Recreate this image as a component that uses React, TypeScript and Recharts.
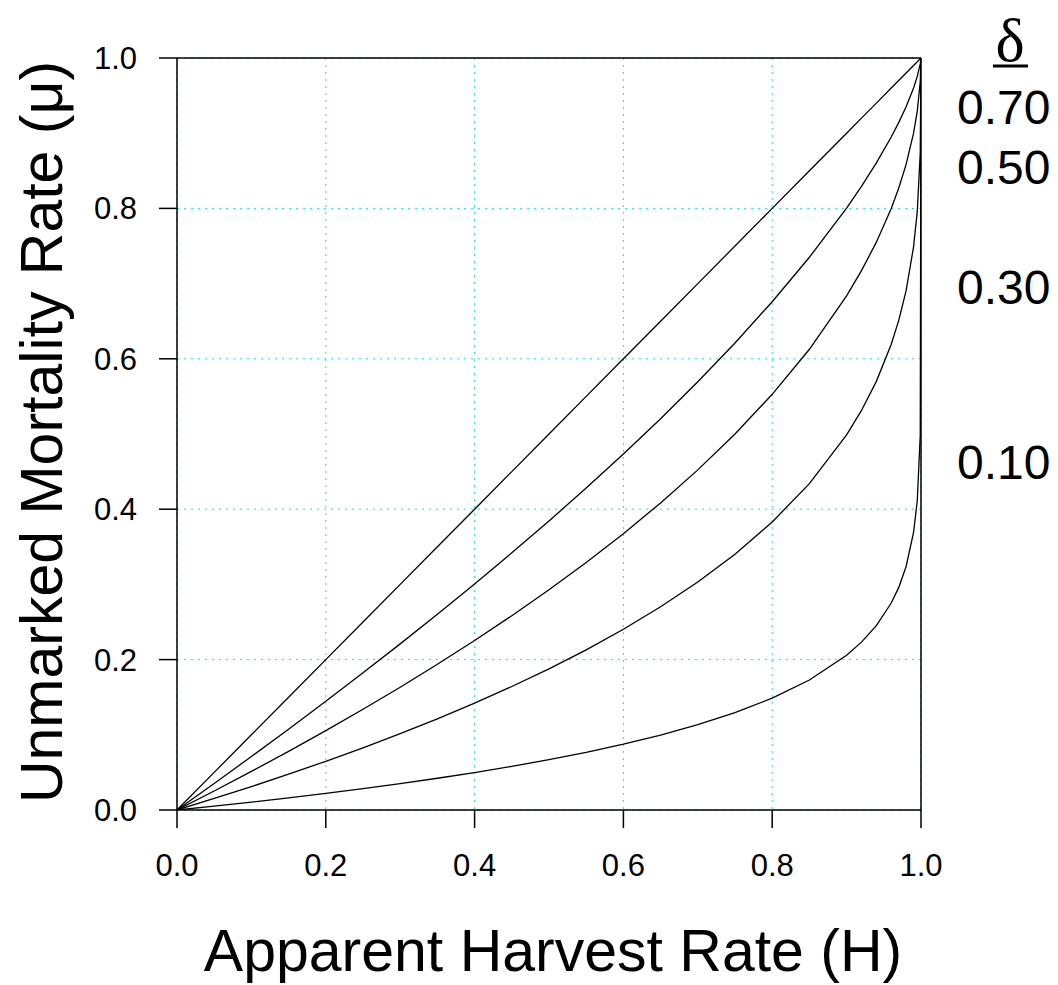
import React from "react";
import {
  LineChart,
  Line,
  XAxis,
  YAxis,
  CartesianGrid,
  ReferenceLine,
} from "recharts";

// apparent harvest rate (x) sample points
const H = [
  0, 0.05, 0.1, 0.15, 0.2, 0.25, 0.3, 0.35, 0.4, 0.45, 0.5, 0.55, 0.6, 0.65,
  0.7, 0.75, 0.8, 0.85, 0.9, 0.92, 0.94, 0.96, 0.97, 0.98, 0.99, 0.995, 0.999,
  1,
];

// unmarked mortality rate, one curve per delta (top to bottom)
const MU_D100 = [
  0, 0.05, 0.1, 0.15, 0.2, 0.25, 0.3, 0.35, 0.4, 0.45, 0.5, 0.55, 0.6, 0.65,
  0.7, 0.75, 0.8, 0.85, 0.9, 0.92, 0.94, 0.96, 0.97, 0.98, 0.99, 0.995, 0.999,
  1,
];
const MU_D70 = [
  0, 0.0353, 0.0711, 0.1075, 0.1446, 0.1824, 0.2209, 0.2603, 0.3006, 0.342,
  0.3844, 0.4282, 0.4735, 0.5204, 0.5695, 0.6211, 0.6759, 0.735, 0.8005,
  0.8293, 0.8605, 0.895, 0.9141, 0.9353, 0.9602, 0.9755, 0.9921, 1,
];
const MU_D50 = [
  0, 0.0253, 0.0513, 0.078, 0.1056, 0.134, 0.1633, 0.1938, 0.2254, 0.2584,
  0.2929, 0.3292, 0.3675, 0.4084, 0.4523, 0.5, 0.5528, 0.6127, 0.6838, 0.7172,
  0.7551, 0.8, 0.8268, 0.8586, 0.9, 0.9293, 0.9684, 1,
];
const MU_D30 = [
  0, 0.0153, 0.0311, 0.0476, 0.0648, 0.0827, 0.1015, 0.1212, 0.1421, 0.1642,
  0.1877, 0.213, 0.2403, 0.2702, 0.3032, 0.3402, 0.383, 0.434, 0.4988, 0.5313,
  0.57, 0.6193, 0.6508, 0.6907, 0.7488, 0.796, 0.8741, 1,
];
const MU_D10 = [
  0, 0.0051, 0.0105, 0.0161, 0.0221, 0.0284, 0.035, 0.0422, 0.0498, 0.058,
  0.067, 0.0767, 0.0876, 0.0997, 0.1134, 0.1294, 0.1487, 0.1728, 0.2057,
  0.2232, 0.2452, 0.2752, 0.2957, 0.3238, 0.369, 0.4113, 0.4988, 1,
];

const SERIES = ["d100", "d70", "d50", "d30", "d10"];
const X_TICKS = [0, 0.2, 0.4, 0.6, 0.8, 1];
const Y_TICKS = [0, 0.2, 0.4, 0.6, 0.8, 1];
const DELTA_LABELS = ["0.70", "0.50", "0.30", "0.10"];

const data = H.map((h, i) => ({
  h,
  d100: MU_D100[i],
  d70: MU_D70[i],
  d50: MU_D50[i],
  d30: MU_D30[i],
  d10: MU_D10[i],
}));

const FONT = "Arial, 'Liberation Sans', sans-serif";
const labelY = [124, 184, 304, 479];

export default function App() {
  const tick = { fill: "#000", fontSize: 31, fontFamily: FONT };
  return (
    <div style={{ position: "absolute", left: 0, top: 0, width: 1058, height: 985, background: "#fff" }}>
      <LineChart
        width={1058}
        height={985}
        data={data}
        margin={{ top: 58, right: 137, bottom: 0, left: 0 }}
      >
        <CartesianGrid stroke="#00eeee" strokeDasharray="2 5" strokeWidth={1} />
        <XAxis
          dataKey="h"
          type="number"
          domain={[0, 1]}
          ticks={X_TICKS}
          tickFormatter={(v: number) => v.toFixed(1)}
          tick={tick}
          tickSize={18}
          tickMargin={26}
          height={175}
          stroke="#000"
          strokeWidth={1.5}
          allowDataOverflow
        />
        <YAxis
          type="number"
          domain={[0, 1]}
          ticks={Y_TICKS}
          tickFormatter={(v: number) => v.toFixed(1)}
          tick={tick}
          tickSize={18}
          tickMargin={22}
          width={177}
          stroke="#000"
          strokeWidth={1.5}
          allowDataOverflow
        />
        <ReferenceLine y={1} stroke="#000" strokeWidth={1.5} />
        <ReferenceLine x={1} stroke="#000" strokeWidth={1.5} />
        {SERIES.map((s) => (
          <Line
            key={s}
            type="linear"
            dataKey={s}
            stroke="#000"
            strokeWidth={1.3}
            dot={false}
            isAnimationActive={false}
          />
        ))}
      </LineChart>
      <svg
        width={1058}
        height={985}
        style={{ position: "absolute", left: 0, top: 0, pointerEvents: "none" }}
      >
        <text x={553} y={971} textAnchor="middle" fontSize={59} fontFamily={FONT} fill="#000">
          Apparent Harvest Rate (H)
        </text>
        <text
          x={0}
          y={0}
          transform="translate(62 432) rotate(-90)"
          textAnchor="middle"
          fontSize={59}
          fontFamily={FONT}
          fill="#000"
        >
          Unmarked Mortality Rate (μ)
        </text>
        <text x={1010} y={61} textAnchor="middle" fontSize={62} fontFamily="'Liberation Serif', 'Times New Roman', serif" fill="#000">
          δ
        </text>
        <line x1={993} x2={1028} y1={66} y2={66} stroke="#000" strokeWidth={3} />
        {DELTA_LABELS.map((t, i) => (
          <text key={t} x={957} y={labelY[i]} fontSize={48} fontFamily={FONT} fill="#000">
            {t}
          </text>
        ))}
      </svg>
    </div>
  );
}
